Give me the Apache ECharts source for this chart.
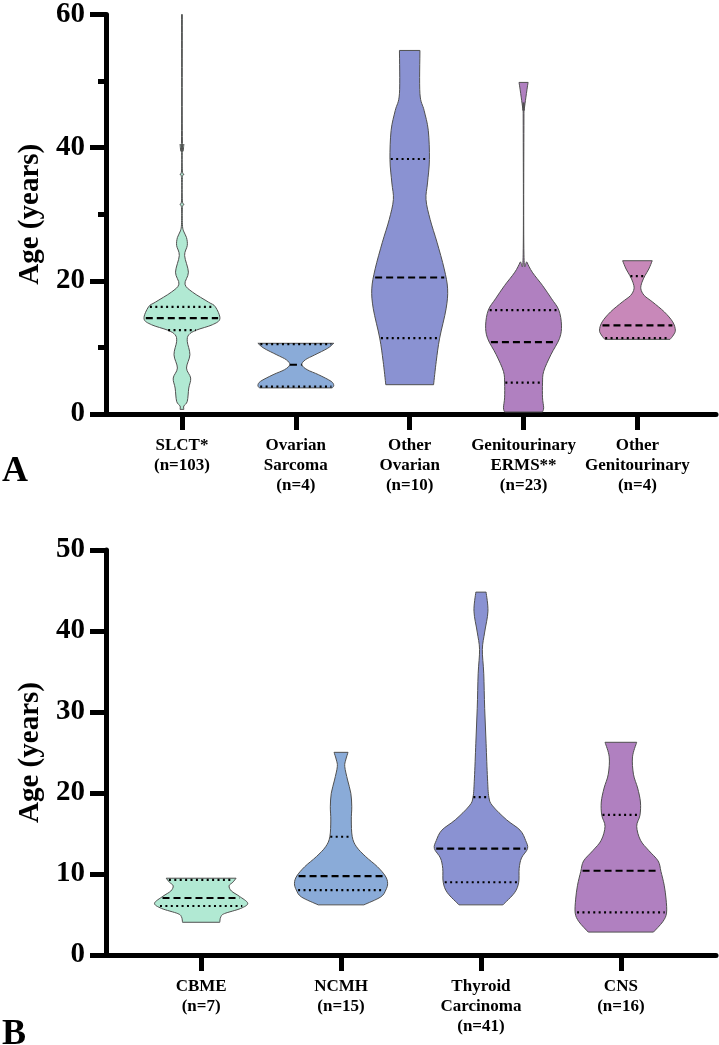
<!DOCTYPE html>
<html><head><meta charset="utf-8">
<script src="https://cdn.jsdelivr.net/npm/echarts@6/dist/echarts.min.js"></script>
<style>html,body{margin:0;padding:0;background:#fff}#c{width:719px;height:1045px}</style>
</head><body><div id="c"></div>
<script>
// ---------- Panel A ----------
const catsA = ['SLCT*\n(n=103)', 'Ovarian\nSarcoma\n(n=4)', 'Other\nOvarian\n(n=10)', 'Genitourinary\nERMS**\n(n=23)', 'Other\nGenitourinary\n(n=4)'];
const ticksA = [0, 20, 40, 60];
// violin profiles: ages (ascending) and relative half-widths (density)
const slctAges   = [0.7, 1.2, 1.9, 3.9, 5.4, 6.9, 8.9, 10.9, 11.9, 12.6, 13.4, 14.3, 16.1, 16.8, 18.3, 19.5, 21.3, 23.8, 25.3, 26.5, 27.5, 28.5, 31, 31.5, 32, 35.5, 36, 36.5, 40, 40.5, 41, 60];
const slctDens   = [0.05, 0.05, 0.14, 0.18, 0.23, 0.12, 0.21, 0.14, 0.18, 0.38, 0.8, 1.0, 0.88, 0.7, 0.28, 0.08, 0.17, 0.07, 0.14, 0.12, 0.04, 0.012, 0.012, 0.05, 0.012, 0.012, 0.05, 0.012, 0.012, 0.05, 0.012, 0.01];
const ovSarcAges = [3.92, 4.3, 4.91, 5.9, 6.65, 7.39, 8.14, 8.88, 9.87, 10.62];
const ovSarcDens = [0.96, 1.0, 0.93, 0.6, 0.3, 0.16, 0.25, 0.5, 0.84, 1.0];
const othOvAges  = [4.4, 7.9, 11.4, 15.8, 18.8, 21.8, 25.8, 29.2, 32.2, 34.7, 38.2, 42.6, 45.6, 48.1, 54.6];
const othOvDens  = [0.63, 0.7, 0.79, 0.96, 1.0, 0.91, 0.72, 0.54, 0.43, 0.47, 0.52, 0.49, 0.38, 0.27, 0.27];
const ermsAges   = [0.3, 0.94, 2.43, 4.67, 6.4, 8.9, 11.37, 13.35, 15.6, 17.3, 19.3, 21.3, 22.8, 24.0, 45.1, 45.6, 47.1, 49.1, 49.8];
const ermsDens   = [0.5, 0.53, 0.5, 0.5, 0.53, 0.72, 0.95, 1.0, 0.93, 0.74, 0.5, 0.23, 0.09, 0.01, 0.01, 0.015, 0.05, 0.1, 0.12];
const othGuAges  = [11.21, 11.86, 12.6, 13.84, 15.33, 16.82, 17.8, 18.8, 19.79, 20.79, 21.78, 23.02];
const othGuDens  = [0.86, 0.95, 1.0, 0.93, 0.71, 0.4, 0.18, 0.09, 0.12, 0.2, 0.3, 0.39];
const q1A     = [12.6, 4.1, 11.4, 4.7, 11.4];
const medianA = [14.4, 7.4, 20.5, 10.8, 13.3];
const q3A     = [16.1, 10.5, 38.3, 15.6, 20.7];
const colorsA = ['#b1e9d3', '#8aabd8', '#8a92d2', '#b080c0', '#c888b9'];

// ---------- Panel B ----------
const catsB = ['CBME\n(n=7)', 'NCMH\n(n=15)', 'Thyroid\nCarcinoma\n(n=41)', 'CNS\n(n=16)'];
const ticksB = [0, 10, 20, 30, 40, 50];
const cbmeAges = [4.04, 4.68, 5.11, 5.75, 6.39, 7.25, 7.9, 8.54, 8.98, 9.48];
const cbmeDens = [0.4, 0.42, 0.5, 0.85, 1.0, 0.82, 0.65, 0.6, 0.68, 0.75];
const ncmhAges = [6.19, 7.16, 8.02, 8.85, 9.75, 10.9, 12.14, 13.37, 14.6, 16.67, 18.31, 19.96, 21.6, 23.25, 24.07, 25.02];
const ncmhDens = [0.49, 0.85, 0.96, 1.0, 0.95, 0.78, 0.53, 0.33, 0.24, 0.22, 0.23, 0.21, 0.14, 0.08, 0.1, 0.15];
const thyAges  = [6.19, 7.68, 8.98, 10.69, 11.98, 13.14, 14.12, 15.41, 16.69, 18.41, 19.48, 21.84, 26.14, 30.43, 34.72, 37.72, 39.87, 42.44, 44.8];
const thyDens  = [0.47, 0.72, 0.81, 0.82, 0.87, 1.0, 0.96, 0.84, 0.55, 0.25, 0.17, 0.14, 0.11, 0.08, 0.06, 0.03, 0.08, 0.15, 0.11];
const cnsAges  = [2.83, 4.11, 5.18, 6.9, 8.61, 10.32, 11.61, 12.89, 14.18, 15.89, 17.26, 18.89, 20.61, 22.32, 24.46, 26.26];
const cnsDens  = [0.7, 0.9, 0.98, 0.97, 0.93, 0.86, 0.8, 0.6, 0.42, 0.34, 0.41, 0.42, 0.36, 0.27, 0.25, 0.34];
const q1B     = [6.05, 8.02, 8.98, 5.27];
const medianB = [7.04, 9.75, 13.14, 10.4];
const q3B     = [9.27, 14.6, 19.48, 17.3];
const colorsB = ['#b1e9d3', '#8aabd8', '#8a92d2', '#b080c0'];

const profilesA = [[slctAges, slctDens], [ovSarcAges, ovSarcDens], [othOvAges, othOvDens], [ermsAges, ermsDens], [othGuAges, othGuDens]];
const profilesB = [[cbmeAges, cbmeDens], [ncmhAges, ncmhDens], [thyAges, thyDens], [cnsAges, cnsDens]];

const HALF = 0.333; // max half width in category units
const FONT = '"Liberation Serif", "Times New Roman", serif';

function smoothSeg(pts) {
  let d = '';
  for (let i = 0; i < pts.length - 1; i++) {
    const p0 = pts[i - 1] || pts[i], p1 = pts[i], p2 = pts[i + 1], p3 = pts[i + 2] || pts[i + 1];
    const c1 = [p1[0] + (p2[0] - p0[0]) / 6, p1[1] + (p2[1] - p0[1]) / 6];
    const c2 = [p2[0] - (p3[0] - p1[0]) / 6, p2[1] - (p3[1] - p1[1]) / 6];
    d += 'C' + c1[0].toFixed(2) + ',' + c1[1].toFixed(2) + ' ' + c2[0].toFixed(2) + ',' + c2[1].toFixed(2) + ' ' + p2[0].toFixed(2) + ',' + p2[1].toFixed(2);
  }
  return d;
}
function interp(ages, dens, a) {
  if (a <= ages[0]) return dens[0];
  for (let i = 1; i < ages.length; i++) {
    if (a <= ages[i]) {
      const t = (a - ages[i - 1]) / (ages[i] - ages[i - 1]);
      return dens[i - 1] + t * (dens[i] - dens[i - 1]);
    }
  }
  return dens[dens.length - 1];
}
function makeRender(profiles, q1, med, q3, colors) {
  return function (params, api) {
    const i = api.value(0);
    const ages = profiles[i][0], dens = profiles[i][1];
    const right = ages.map((a, k) => api.coord([i + dens[k] * HALF, a]));
    const left = ages.map((a, k) => api.coord([i - dens[k] * HALF, a])).reverse();
    let d = 'M' + right[0][0] + ',' + right[0][1] + smoothSeg(right) +
            'L' + left[0][0] + ',' + left[0][1] + smoothSeg(left) + 'Z';
    const children = [{
      type: 'path', shape: { pathData: d },
      style: { fill: colors[i], stroke: '#505050', lineWidth: 1 }
    }];
    const qline = (a, dash) => {
      const w = interp(ages, dens, a) * HALF * 0.96;
      const p1 = api.coord([i - w, a]), p2 = api.coord([i + w, a]);
      return { type: 'line', shape: { x1: p1[0], y1: p1[1], x2: p2[0], y2: p2[1] },
        style: { stroke: '#000', lineWidth: 2.2, lineDash: dash, lineCap: 'butt' } };
    };
    children.push(qline(q1[i], [2, 3.4]));
    children.push(qline(q3[i], [2, 3.4]));
    children.push(qline(med[i], [7, 4]));
    return { type: 'group', children };
  };
}

const chart = echarts.init(document.getElementById('c'), null, { renderer: 'canvas' });
function xAxisCfg(cats, gridIndex, min, max) {
  const idx = cats.map((_, k) => k);
  return {
    type: 'value', gridIndex, min, max,
    axisLine: { show: true, onZero: false, lineStyle: { color: '#000', width: 5 } },
    axisTick: { show: true, customValues: idx, length: 16, lineStyle: { color: '#000', width: 5 } },
    axisLabel: { show: true, customValues: idx, margin: 22, formatter: v => cats[Math.round(v)],
      fontFamily: FONT, fontWeight: 'bold', fontSize: 17, lineHeight: 20, color: '#000' },
    splitLine: { show: false }
  };
}
function yAxisCfg(gridIndex, max, interval, minor) {
  return {
    type: 'value', gridIndex, min: 0, max, interval,
    name: 'Age (years)', nameLocation: 'middle', nameGap: 60,
    nameTextStyle: { fontFamily: FONT, fontWeight: 'bold', fontSize: 29, color: '#000' },
    axisLine: { show: true, onZero: false, lineStyle: { color: '#000', width: 5 } },
    axisTick: { show: true, length: 16, lineStyle: { color: '#000', width: 5 } },
    minorTick: { show: minor, splitNumber: 2, length: 8, lineStyle: { color: '#000', width: 5 } },
    axisLabel: { margin: 21, fontFamily: FONT, fontWeight: 'bold', fontSize: 29, color: '#000' },
    splitLine: { show: false }, minorSplitLine: { show: false }
  };
}
chart.setOption({
  animation: false,
  backgroundColor: '#fff',
  grid: [
    { left: 106, right: 3, top: 10, height: 404 },
    { left: 106, right: 3, top: 550, height: 405 }
  ],
  xAxis: [xAxisCfg(catsA, 0, -0.667, 4.69), xAxisCfg(catsB, 1, -0.68, 3.68)],
  yAxis: [yAxisCfg(0, 60, 20, true), yAxisCfg(1, 50, 10, false)],
  graphic: [
    { type: 'text', left: 2, top: 454, style: { text: 'A', font: 'bold 36px ' + FONT, fill: '#000' } },
    { type: 'text', left: 2, top: 1017, style: { text: 'B', font: 'bold 36px ' + FONT, fill: '#000' } }
  ],
  series: [
    { type: 'custom', xAxisIndex: 0, yAxisIndex: 0, data: catsA.map((_, k) => [k]),
      renderItem: makeRender(profilesA, q1A, medianA, q3A, colorsA), clip: false },
    { type: 'custom', xAxisIndex: 1, yAxisIndex: 1, data: catsB.map((_, k) => [k]),
      renderItem: makeRender(profilesB, q1B, medianB, q3B, colorsB), clip: false }
  ]
});
</script></body></html>
